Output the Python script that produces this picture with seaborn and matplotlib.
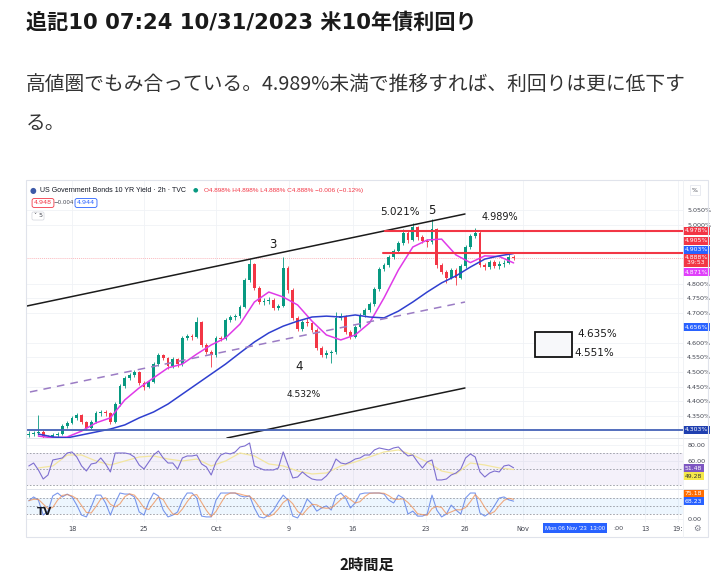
import numpy as np
import matplotlib
matplotlib.use("Agg")
import matplotlib.pyplot as plt
import matplotlib.transforms as mtransforms
from matplotlib.patches import Rectangle
import seaborn as sns

sns.set_theme(style="white")
plt.rcParams['font.family'] = ['DejaVu Sans', 'Noto Sans CJK JP']

# ---------------- data ----------------
first_open = 4.285
closes = [4.289, 4.293, 4.296, 4.279, 4.276, 4.286, 4.290, 4.316, 4.327, 4.344,
          4.354, 4.330, 4.310, 4.330, 4.361, 4.364, 4.361, 4.330, 4.390, 4.452,
          4.480, 4.490, 4.500, 4.463, 4.449, 4.466, 4.527, 4.558, 4.548, 4.520,
          4.544, 4.527, 4.616, 4.622, 4.619, 4.670, 4.592, 4.568, 4.558, 4.616,
          4.612, 4.677, 4.687, 4.690, 4.721, 4.813, 4.867, 4.786, 4.738, 4.741,
          4.745, 4.718, 4.724, 4.854, 4.779, 4.684, 4.646, 4.670, 4.665, 4.643,
          4.582, 4.558, 4.565, 4.568, 4.684, 4.690, 4.636, 4.619, 4.653, 4.694,
          4.711, 4.731, 4.782, 4.850, 4.864, 4.891, 4.912, 4.939, 4.973, 4.949,
          4.993, 4.959, 4.946, 4.942, 4.986, 4.864, 4.840, 4.820, 4.847, 4.820,
          4.861, 4.925, 4.963, 4.973, 4.864, 4.858, 4.874, 4.861, 4.867, 4.872,
          4.891, 4.888]
highs = [4.298, 4.300, 4.354, 4.302, 4.286, 4.292, 4.296, 4.322, 4.335, 4.350,
         4.360, 4.358, 4.334, 4.336, 4.367, 4.372, 4.370, 4.365, 4.398, 4.460,
         4.488, 4.497, 4.508, 4.504, 4.468, 4.472, 4.534, 4.566, 4.562, 4.552,
         4.550, 4.549, 4.622, 4.630, 4.628, 4.687, 4.674, 4.598, 4.574, 4.622,
         4.624, 4.684, 4.695, 4.698, 4.728, 4.820, 4.884, 4.872, 4.792, 4.752,
         4.756, 4.750, 4.732, 4.891, 4.860, 4.784, 4.690, 4.678, 4.682, 4.670,
         4.648, 4.588, 4.574, 4.576, 4.704, 4.700, 4.694, 4.642, 4.660, 4.700,
         4.718, 4.738, 4.790, 4.858, 4.872, 4.898, 4.920, 4.946, 4.985, 4.978,
         5.008, 4.998, 4.966, 4.952, 5.021, 4.990, 4.870, 4.846, 4.855, 4.852,
         4.868, 4.932, 4.970, 4.989, 4.978, 4.872, 4.882, 4.880, 4.876, 4.880,
         4.900, 4.898]
lows = [4.278, 4.282, 4.285, 4.272, 4.268, 4.272, 4.280, 4.286, 4.310, 4.322,
        4.338, 4.324, 4.304, 4.306, 4.326, 4.352, 4.352, 4.322, 4.326, 4.385,
        4.446, 4.474, 4.482, 4.456, 4.440, 4.444, 4.462, 4.520, 4.540, 4.510,
        4.515, 4.518, 4.522, 4.608, 4.610, 4.614, 4.585, 4.560, 4.517, 4.552,
        4.604, 4.608, 4.670, 4.678, 4.684, 4.716, 4.806, 4.778, 4.730, 4.728,
        4.732, 4.710, 4.712, 4.720, 4.770, 4.676, 4.638, 4.640, 4.656, 4.636,
        4.575, 4.550, 4.548, 4.532, 4.562, 4.676, 4.628, 4.612, 4.614, 4.648,
        4.688, 4.705, 4.726, 4.776, 4.842, 4.858, 4.884, 4.905, 4.932, 4.940,
        4.944, 4.950, 4.938, 4.925, 4.936, 4.855, 4.832, 4.803, 4.815, 4.796,
        4.815, 4.855, 4.920, 4.956, 4.856, 4.846, 4.850, 4.852, 4.850, 4.858,
        4.866, 4.880]

# moving averages, one value per trading day
ma_fast = [4.282, 4.276, 4.279, 4.299, 4.327, 4.344, 4.405, 4.446, 4.480, 4.514,
           4.527, 4.561, 4.592, 4.616, 4.663, 4.738, 4.772, 4.755, 4.728, 4.673,
           4.626, 4.609, 4.626, 4.667, 4.752, 4.847, 4.925, 4.949, 4.952, 4.898,
           4.872, 4.895, 4.893, 4.871]
ma_slow = [4.289, 4.279, 4.276, 4.286, 4.296, 4.306, 4.320, 4.344, 4.364, 4.391,
           4.425, 4.459, 4.493, 4.527, 4.565, 4.602, 4.633, 4.656, 4.673, 4.687,
           4.690, 4.687, 4.694, 4.687, 4.684, 4.707, 4.738, 4.772, 4.803, 4.827,
           4.857, 4.884, 4.895, 4.903]

rsi = [53.8, 57.5, 48.8, 37.5, 42.5, 61.3, 62.5, 63.8, 70.0, 71.3,
       65.0, 53.8, 47.5, 56.3, 57.5, 63.8, 56.3, 46.3, 70.0, 70.0,
       70.0, 68.8, 65.0, 55.0, 50.0, 58.8, 67.5, 72.5, 63.8, 57.5,
       57.5, 50.0, 63.8, 66.3, 66.3, 67.5, 56.3, 52.5, 42.5, 58.8,
       67.5, 70.0, 68.8, 71.3, 77.5, 78.8, 82.5, 53.8, 51.3, 48.8,
       48.8, 48.8, 51.3, 71.3, 55.0, 38.8, 40.0, 46.3, 41.3, 37.5,
       36.3, 36.3, 41.3, 48.8, 62.5, 57.5, 56.3, 58.8, 62.5, 63.8,
       67.5, 67.5, 73.8, 76.3, 75.0, 73.8, 76.3, 77.5, 71.3, 66.3,
       67.5, 58.8, 51.3, 58.8, 61.3, 36.3, 36.3, 37.5, 42.5, 45.0,
       50.0, 63.8, 68.8, 65.0, 46.3, 40.0, 45.0, 47.5, 46.3, 53.8,
       55.0, 51.5]
rsi_ma = [51.3, 53.8, 67.5, 67.5, 60.0, 55.0, 60.0, 65.0, 66.3, 62.5,
          60.0, 62.5, 53.8, 60.0, 70.0, 66.3, 56.3, 53.8, 47.5, 43.8,
          45.0, 53.8, 58.8, 65.0, 71.3, 73.8, 67.5, 58.8, 47.5, 43.8,
          57.5, 55.0, 51.3, 49.3]

stoch_k = [69, 84, 72, 15, 30, 88, 99, 84, 95, 84,
           53, 15, 8, 46, 91, 91, 61, 15, 61, 99,
           95, 95, 84, 27, 15, 65, 99, 88, 34, 8,
           15, 27, 72, 99, 99, 80, 11, 8, 8, 72,
           99, 99, 99, 99, 88, 84, 88, 42, 8, 4,
           15, 34, 65, 91, 72, 11, 4, 34, 76, 57,
           30, 42, 50, 34, 88, 99, 80, 42, 61, 95,
           99, 99, 99, 99, 95, 72, 61, 91, 80, 19,
           30, 11, 11, 19, 91, 34, 8, 19, 53, 34,
           19, 80, 99, 99, 23, 11, 23, 50, 80, 84,
           73, 68]
stoch_d = [70, 75, 75, 57, 39, 44, 72, 90, 93, 88,
           77, 51, 25, 23, 48, 76, 81, 56, 46, 58,
           85, 96, 91, 69, 42, 36, 60, 84, 74, 43,
           19, 17, 38, 66, 90, 93, 63, 33, 9, 29,
           60, 90, 99, 99, 95, 90, 87, 71, 46, 18,
           9, 18, 38, 63, 76, 58, 29, 16, 38, 56,
           54, 43, 41, 42, 57, 74, 89, 74, 61, 66,
           85, 98, 99, 99, 98, 89, 76, 75, 77, 63,
           43, 20, 17, 14, 40, 48, 44, 20, 27, 35,
           35, 44, 66, 93, 74, 44, 19, 28, 51, 71,
           79, 75]

date_labels = ["18", "25", "Oct", "9", "16", "23", "26", "Nov", "13", "19:"]
date_days = [0, 5, 10, 15.07, 19.5, 24.58, 27.29, 31.3, 39.79, 42.08]
price_ticks = [4.35, 4.40, 4.45, 4.50, 4.55, 4.60, 4.70, 4.75, 4.80, 5.00, 5.05]

upper_channel_d, upper_channel_p = [-3.125, 27.29], [4.7245, 5.0374]
lower_channel_d, lower_channel_p = [10.76, 27.29], [4.2755, 4.4456]
mid_channel_d, mid_channel_p = [-2.92, 27.29], [4.432, 4.738]
resistance_start = [21.74, 21.6]
resistance_levels = [4.978, 4.905]
support_level = 4.303
last_price = 4.888
box_days = [32.15, 34.72]
box_range = [4.551, 4.635]

# ---------------- layout helpers ----------------
W, H = 720, 584
def fx(px): return px / W
def fy(py): return 1 - py / H

fig = plt.figure(figsize=(7.2, 5.84), dpi=100)
fig.patch.set_facecolor("white")

L, R = 26, 683
ax = fig.add_axes([fx(L), fy(438), fx(R) - fx(L), fy(180) - fy(438)])
ax_r = fig.add_axes([fx(L), fy(489), fx(R) - fx(L), fy(438) - fy(489)], sharex=ax)
ax_s = fig.add_axes([fx(L), fy(522), fx(R) - fx(L), fy(489) - fy(522)], sharex=ax)

UP, DN = "#089981", "#f23645"
GRID = "#f0f2f6"
n = len(closes)
bar_x = -3 + np.arange(n) / 3.0
day_x = -3 + 2 / 3.0 + np.arange(len(ma_fast))
o = np.array([first_open] + closes[:-1])
c = np.array(closes)
cols = [UP if cc >= oo else DN for oo, cc in zip(o, c)]

for a in (ax, ax_r, ax_s):
    a.set_facecolor("white")
    for s in a.spines.values():
        s.set_visible(False)
    a.set_xticks(date_days)
    a.grid(True, color=GRID, lw=0.6)
    a.set_axisbelow(True)
    a.tick_params(length=0)

ax.set_xlim(-3.194, 42.43)
ax.set_ylim(4.2755, 5.153)

# candles
ax.vlines(bar_x, lows, highs, colors=cols, lw=0.6, zorder=2)
ax.bar(bar_x, np.maximum(np.abs(c - o), 0.0025), bottom=np.minimum(o, c),
       width=0.19, color=cols, lw=0, zorder=2)

# MAs
sns.lineplot(x=day_x, y=ma_fast, ax=ax, color="#e03ae8", lw=1.1, zorder=3)
sns.lineplot(x=day_x, y=ma_slow, ax=ax, color="#2f3fcf", lw=1.1, zorder=3)

# drawings
ax.plot(upper_channel_d, upper_channel_p, color="#1b1b1b", lw=1.1, zorder=4)
ax.plot(lower_channel_d, lower_channel_p, color="#1b1b1b", lw=1.1, zorder=4)
ax.plot(mid_channel_d, mid_channel_p, color="#9b7cc4", lw=1.1, ls=(0, (5, 4)), zorder=4)
for xs, lv in zip(resistance_start, resistance_levels):
    ax.plot([xs, 42.43], [lv, lv], color="#f23645", lw=1.5, zorder=4)
ax.axhline(support_level, color="#4562b8", lw=1.3, zorder=4)
ax.axhline(last_price, color="#f23645", lw=0.7, alpha=0.35, ls=(0, (1, 1)), zorder=1)
ax.add_patch(Rectangle((box_days[0], box_range[0]), box_days[1] - box_days[0],
                       box_range[1] - box_range[0], fill=True, fc="#f7f8fa",
                       ec="#111111", lw=1.3, zorder=4))

ann = dict(color="#1b1b1b", zorder=5, ha="center", va="center")
ax.text(13.96, 4.935, "3", fontsize=8.5, **ann)
ax.text(15.76, 4.517, "4", fontsize=8.5, **ann)
ax.text(16.1, 4.422, "4.532%", fontsize=6.5, **ann)
ax.text(22.78, 5.044, "5.021%", fontsize=7.5, **ann)
ax.text(25.0, 5.049, "5", fontsize=8.5, **ann)
ax.text(29.72, 5.027, "4.989%", fontsize=7, **ann)
ax.text(35.1, 4.630, "4.635%", fontsize=7.5, color="#1b1b1b", ha="left", va="center")
ax.text(34.9, 4.566, "4.551%", fontsize=7.5, color="#1b1b1b", ha="left", va="center")

# price scale
ax.yaxis.tick_right()
ax.set_yticks(price_ticks)
ax.set_yticklabels([f"{p:.3f}%" for p in price_ticks])
ax.tick_params(axis="y", labelsize=4.6, labelcolor="#434651", pad=3)
ax.tick_params(axis="x", labelbottom=False)

def tag(a, y, text, fc, tc="white"):
    tr = mtransforms.blended_transform_factory(a.transAxes, a.transData)
    a.text(1.003, y, text, transform=tr, fontsize=4.4, color=tc, ha="left",
           va="center", linespacing=1.0, zorder=6, clip_on=False,
           bbox=dict(boxstyle="square,pad=0.25", fc=fc, ec="none"))

tag(ax, 4.980, "4.978%", "#f23645")
tag(ax, 4.946, "4.905%", "#f23645")
tag(ax, 4.915, "4.903%", "#2962ff")
tag(ax, 4.880, "4.888%\n 39:53", "#f23645")
tag(ax, 4.840, "4.871%", "#e040fb")
tag(ax, 4.653, "4.656%", "#2962ff")
tag(ax, 4.303, "4.303%", "#1f3fb0")

# RSI pane
ax_r.set_ylim(25, 88.75)
ax_r.axhspan(30, 70, color="#7e57c2", alpha=0.08, lw=0)
for lv in (70, 50, 30):
    ax_r.axhline(lv, color="#9598a1", lw=0.6, ls=(0, (2, 2)))
sns.lineplot(x=day_x, y=rsi_ma, ax=ax_r, color="#f3e6a0", lw=0.9)
sns.lineplot(x=bar_x, y=rsi, ax=ax_r, color="#7e6fd0", lw=0.8)
ax_r.yaxis.tick_right()
ax_r.set_yticks([80, 60])
ax_r.set_yticklabels(["80.00", "60.00"])
ax_r.tick_params(axis="y", labelsize=4.6, labelcolor="#434651", pad=3)
ax_r.tick_params(axis="x", labelbottom=False)
tag(ax_r, 51.25, "51.48", "#7e57c2")
tag(ax_r, 41.25, "49.28", "#f5e94a", tc="#333333")

# Stoch pane
ax_s.set_ylim(-11.4, 114.3)
ax_s.axhspan(20, 80, color="#2196f3", alpha=0.08, lw=0)
for lv in (80, 50, 20):
    ax_s.axhline(lv, color="#9598a1", lw=0.6, ls=(0, (2, 2)))
sns.lineplot(x=bar_x, y=stoch_k, ax=ax_s, color="#5b7fe8", lw=0.8, alpha=0.8)
sns.lineplot(x=bar_x, y=stoch_d, ax=ax_s, color="#f08a4b", lw=0.8, alpha=0.7)
ax_s.yaxis.tick_right()
ax_s.set_yticks([0])
ax_s.set_yticklabels(["0.00"])
ax_s.tick_params(axis="y", labelsize=4.6, labelcolor="#434651", pad=3)
ax_s.set_xticks(date_days)
ax_s.set_xticklabels(date_labels)
ax_s.tick_params(axis="x", labelsize=4.8, labelcolor="#434651", pad=3)
tag(ax_s, 99, "75.18", "#ff6d00")
tag(ax_s, 68.23, "68.23", "#2962ff")
ax_s.text(-1.9, 28, "TV", fontsize=7.5, weight="bold", color="#131722",
          ha="center", va="center", zorder=6)

for a in (ax, ax_r, ax_s):
    a.set_xlim(-3.194, 42.43)
    a.set_ylabel("")
    a.set_xlabel("")

# frame & separators
fig.add_artist(Rectangle((fx(26), fy(537)), fx(708) - fx(26), fy(180) - fy(537),
                         transform=fig.transFigure, fill=False, ec="#e0e3eb", lw=0.8))
for py in (438, 489):
    fig.add_artist(plt.Line2D([fx(26), fx(708)], [fy(py), fy(py)],
                              transform=fig.transFigure, color="#e0e3eb", lw=0.7))
fig.add_artist(plt.Line2D([fx(683), fx(683)], [fy(180), fy(537)],
                          transform=fig.transFigure, color="#eef0f4", lw=0.6))

# chart header
fig.text(fx(33), fy(190), "●", fontsize=5.5, color="#3d5aa8", ha="center", va="center")
fig.text(fx(40), fy(190), "US Government Bonds 10 YR Yield · 2h · TVC", fontsize=5.0,
         color="#131722", ha="left", va="center", family=["Liberation Sans", "DejaVu Sans"])
fig.text(fx(195), fy(190), "●", fontsize=4.5, color="#089981", ha="center", va="center")
fig.text(fx(204), fy(190), "O4.898% H4.898% L4.888% C4.888% −0.006 (−0.12%)",
         fontsize=4.6, color="#f23645", ha="left", va="center",
         family=["Liberation Sans", "DejaVu Sans"])
fig.text(fx(43), fy(203), "4.948", fontsize=4.6, color="#f23645", ha="center", va="center",
         bbox=dict(boxstyle="round,pad=0.3", fc="white", ec="#f23645", lw=0.6))
fig.text(fx(64), fy(203), "−0.004", fontsize=4.0, color="#434651", ha="center", va="center")
fig.text(fx(86), fy(203), "4.944", fontsize=4.6, color="#2962ff", ha="center", va="center",
         bbox=dict(boxstyle="round,pad=0.3", fc="white", ec="#2962ff", lw=0.6))
fig.text(fx(38), fy(216), "˅ 5", fontsize=4.4, color="#434651", ha="center", va="center",
         bbox=dict(boxstyle="round,pad=0.25", fc="white", ec="#d1d4dc", lw=0.5))
fig.text(fx(695), fy(190), "%", fontsize=4.4, color="#434651", ha="center", va="center",
         bbox=dict(boxstyle="square,pad=0.35", fc="white", ec="#e0e3eb", lw=0.5))

# crosshair time label
fig.text(fx(575), fy(528), "Mon 06 Nov '23  13:00", fontsize=4.3, color="white",
         ha="center", va="center", family=["Liberation Sans", "DejaVu Sans"],
         bbox=dict(boxstyle="square,pad=0.4", fc="#2962ff", ec="none"))
fig.text(fx(613), fy(528), ":00", fontsize=4.6, color="#434651", ha="left", va="center")
fig.text(fx(697), fy(528), "⚙", fontsize=6, color="#787b86", ha="center", va="center")

# blog text
fig.text(fx(26), fy(23), "追記10 07:24 10/31/2023 米10年債利回り", fontsize=15.2,
         weight="bold", color="#1a1a1a", ha="left", va="center",
         family=["DejaVu Sans", "Noto Sans CJK JP"])
fig.text(fx(26), fy(84), "高値圏でもみ合っている。4.989%未満で推移すれば、利回りは更に低下す",
         fontsize=14.2, color="#333333", ha="left", va="center",
         family=["Noto Sans CJK JP", "DejaVu Sans"])
fig.text(fx(26), fy(124), "る。", fontsize=14.2, color="#333333", ha="left", va="center",
         family=["Noto Sans CJK JP", "DejaVu Sans"])
fig.text(fx(367), fy(565), "2時間足", fontsize=11, weight="bold", color="#1a1a1a",
         ha="center", va="center", family=["Noto Sans CJK JP", "DejaVu Sans"])

fig.savefig("out.png", dpi=100, facecolor="white")
